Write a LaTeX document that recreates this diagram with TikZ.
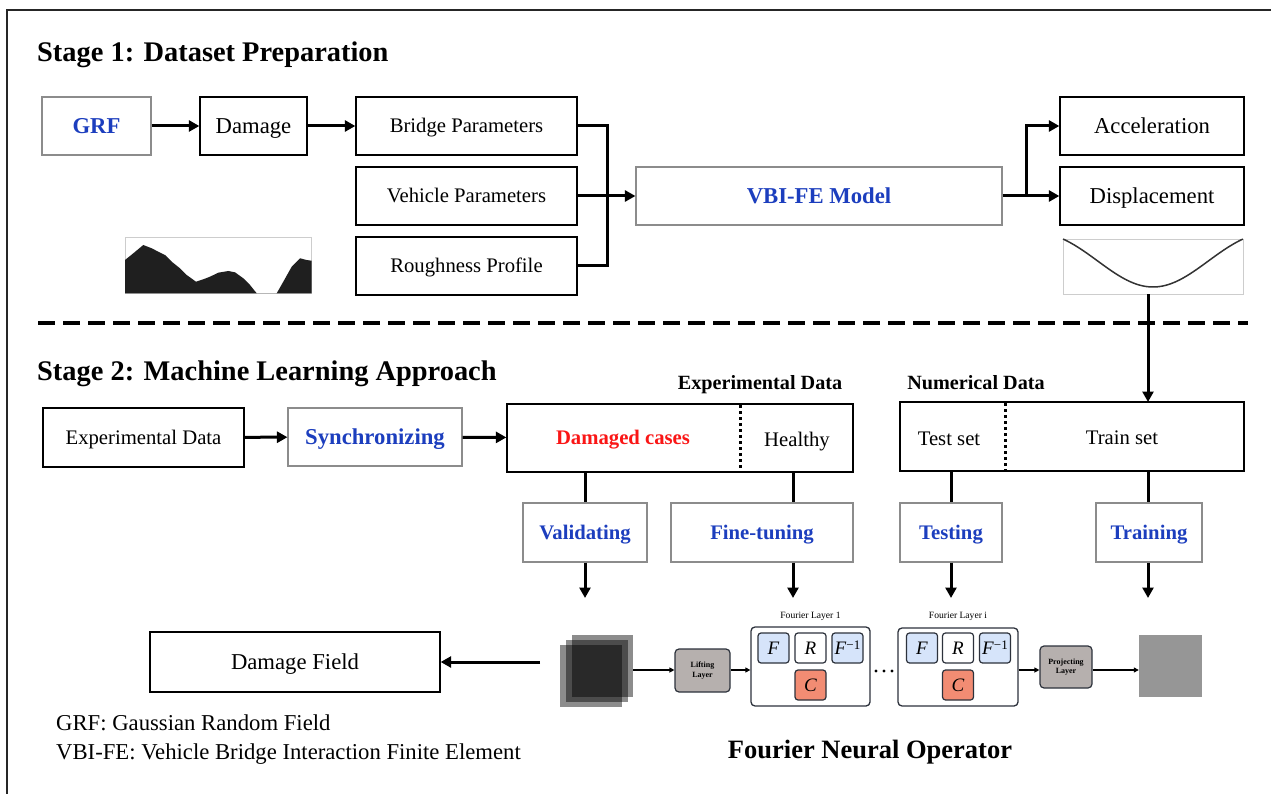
\documentclass[tikz,border=0pt]{standalone}
\usepackage{fontspec}
\setmainfont{Liberation Serif}
\usetikzlibrary{arrows.meta}

\definecolor{hblue}{RGB}{28,62,190}
\definecolor{hred}{RGB}{250,22,22}
\definecolor{lgray}{RGB}{140,140,140}
\definecolor{pgray}{RGB}{205,205,205}
\definecolor{fblue}{RGB}{214,228,250}
\definecolor{csalmon}{RGB}{242,140,115}
\definecolor{edgeslate}{RGB}{45,50,60}
\definecolor{layergray}{RGB}{182,176,174}
\definecolor{outgray}{RGB}{150,150,150}

% text boxes are sized to the capital height so that a node's centre is the middle of its capitals
\tikzset{
  box/.style={draw=black, line width=1.3pt, fill=white, inner sep=0pt},
  gbox/.style={draw=lgray, line width=1.1pt, fill=white, inner sep=0pt},
  plotframe/.style={draw=pgray, line width=0.8pt, inner sep=0pt},
  txt/.style={text height=13.7pt, text depth=0pt, font=\fontsize{20.7}{24}\selectfont},
  bigtxt/.style={text height=15pt, text depth=0pt, font=\fontsize{22.7}{26}\selectfont},
  btxt/.style={text height=13.7pt, text depth=0pt, font=\bfseries\fontsize{20.7}{24}\selectfont, text=hblue},
  bbigtxt/.style={text height=15pt, text depth=0pt, font=\bfseries\fontsize{22.7}{26}\selectfont, text=hblue},
  heading/.style={text height=18.8pt, text depth=0pt, anchor=west, inner sep=0pt, font=\bfseries\fontsize{28.4}{32}\selectfont},
  subhead/.style={text height=13.4pt, text depth=0pt, inner sep=0pt, font=\bfseries\fontsize{20.2}{22}\selectfont},
  ln/.style={line width=3pt},
  arr/.style={line width=3pt, -{Triangle[length=10.5pt,width=11pt]}},
  farr/.style={line width=1.2pt, -{Triangle[length=5pt,width=5pt]}},
  divider/.style={line width=3pt, dash pattern=on 3pt off 3pt},
  cell/.style={draw=edgeslate, line width=1.2pt, rounded corners=3pt,
    minimum width=31pt, minimum height=30pt, inner sep=0pt,
    text height=12.6pt, text depth=0pt, font=\fontsize{19}{19}\selectfont},
  layerbox/.style={draw=edgeslate, line width=1.3pt, rounded corners=4pt, fill=white, inner sep=0pt},
  projbox/.style={draw=edgeslate, line width=1.2pt, rounded corners=4pt, fill=layergray,
    inner sep=0pt, align=center, font=\bfseries\fontsize{8}{9.5}\selectfont},
  layertitle/.style={text height=6.4pt, text depth=0pt, inner sep=0pt, font=\fontsize{9.6}{11}\selectfont}
}

\begin{document}
\begin{tikzpicture}[x=1pt,y=-1pt]
\useasboundingbox (0,0) rectangle (1271,794);
\fill[white] (0,0) rectangle (1271,794);
% frame
\draw[line width=2.5pt, black!85] (1275,10) -- (7,10) -- (7,798);

% ---------------- Stage 1 ----------------
\node[heading] (s1) at (37,52) {Stage 1: Dataset Preparation};

\node[gbox, minimum width=109pt, minimum height=58pt, bbigtxt] (grf) at (96.5,126) {GRF};
\node[box, minimum width=107pt, minimum height=58pt, bigtxt] (dmg) at (253.5,126) {Damage};
\node[box, minimum width=221pt, minimum height=58pt, txt] (bridge) at (466.5,126) {Bridge Parameters};
\node[box, minimum width=221pt, minimum height=58pt, txt] (veh) at (466.5,196) {Vehicle Parameters};
\node[box, minimum width=221pt, minimum height=58pt, txt] (rough) at (466.5,266) {Roughness Profile};
\node[gbox, minimum width=366pt, minimum height=58pt, bbigtxt] (vbi) at (819,196) {VBI-FE Model};
\node[box, minimum width=184pt, minimum height=58pt, bigtxt] (acc) at (1152,126) {Acceleration};
\node[box, minimum width=184pt, minimum height=58pt, bigtxt] (disp) at (1152,196) {Displacement};

\draw[arr] (grf) -- (dmg);
\draw[arr] (dmg) -- (bridge);
\coordinate (merge) at (607,196);
\draw[ln] (bridge.east) -| (merge);
\draw[ln] (rough.east) -| (merge);
\draw[arr] (veh.east) -- (vbi.west);
\coordinate (split) at (1026,196);
\draw[arr] (vbi.east) -- (disp.west);
\draw[arr] (split) |- (acc.west);

% roughness sample
\node[plotframe, minimum width=186pt, minimum height=56pt] (gplot) at (218.5,265.5) {};
\fill[black!88] (125,260) -- (133.3,253.3) -- (143.3,245) -- (151.7,248.3) -- (158.3,251.7)
  -- (165,255) -- (171.7,261.7) -- (180,268.3) -- (186.7,275) -- (196,281.7) -- (203.3,279.3)
  -- (210,276.7) -- (218.3,272.7) -- (228.3,271) -- (235,272.3) -- (243.3,278.3) -- (250,285)
  -- (256.7,293.3) -- (276.7,293.3) -- (283.3,281.7) -- (291.7,266.7) -- (300,258.3)
  -- (306.7,260) -- (311.5,260.7) -- (311.5,293.3) -- (125,293.3) -- cycle;

% displacement sample
\node[plotframe, minimum width=180pt, minimum height=55pt] (dplot) at (1153,266.5) {};
\draw[line width=1.5pt, black!80, domain=0:1, samples=80, smooth]
  plot ({1063+180*\x}, {239 + 48*(0.55*sin(180*\x) + 0.45*(1-cos(360*\x))/2)});

% stage separator
\draw[line width=4pt, dash pattern=on 17pt off 8pt] (38,323) -- (1248,323);

% ---------------- Stage 2 ----------------
\node[heading] (s2) at (37,371) {Stage 2: Machine Learning Approach};

\node[subhead] (exphead) at (760,383) {Experimental Data};
\node[subhead] (numhead) at (976,383) {Numerical Data};

\node[box, minimum width=201pt, minimum height=59pt, txt] (expd) at (143.5,437.5) {Experimental Data};
\node[gbox, minimum width=174pt, minimum height=58pt, bbigtxt] (sync) at (375,437) {Synchronizing};
\node[box, minimum width=346pt, minimum height=68pt] (expbox) at (680,438) {};
\node[inner sep=0pt, text height=13.7pt, text depth=0pt, font=\bfseries\fontsize{20.7}{24}\selectfont, text=hred] (damaged) at (623,437.5) {Damaged cases};
\node[inner sep=0pt, txt] (healthy) at (797,440) {Healthy};
\draw[divider] (740,405) -- (740,471);

\node[box, minimum width=344pt, minimum height=69pt] (numbox) at (1072,436.5) {};
\node[inner sep=0pt, txt] (testset) at (949,439) {Test set};
\node[inner sep=0pt, txt] (trainset) at (1122,438) {Train set};
\draw[divider] (1005,403) -- (1005,470);

\draw[arr] (expd) -- (sync);
\draw[arr] (sync) -- (expbox);

\coordinate (trainin) at (1148,402);
\draw[arr] (dplot.south -| trainin) -- (trainin);

\node[gbox, minimum width=124pt, minimum height=59pt, btxt] (valid) at (585,532.5) {Validating};
\node[gbox, minimum width=182pt, minimum height=59pt, btxt] (fine) at (762,532.5) {Fine-tuning};
\node[gbox, minimum width=102pt, minimum height=59pt, btxt] (testing) at (951,532.5) {Testing};
\node[gbox, minimum width=106pt, minimum height=59pt, btxt] (training) at (1149,532.5) {Training};

\coordinate (vx) at (585,0);
\coordinate (fx) at (793,0);
\coordinate (tx) at (951,0);
\coordinate (rx) at (1148,0);
\draw[ln] (expbox.south -| vx) -- (valid.north -| vx);
\draw[ln] (expbox.south -| fx) -- (fine.north -| fx);
\draw[ln] (numbox.south -| tx) -- (testing.north -| tx);
\draw[ln] (numbox.south -| rx) -- (training.north -| rx);

\coordinate (vend) at (585,598);
\coordinate (fend) at (793,598);
\coordinate (tend) at (951,598);
\coordinate (rend) at (1148,598);
\draw[arr] (valid.south -| vend) -- (vend);
\draw[arr] (fine.south -| fend) -- (fend);
\draw[arr] (testing.south -| tend) -- (tend);
\draw[arr] (training.south -| rend) -- (rend);

% ---------------- Fourier Neural Operator ----------------
\node[box, minimum width=290pt, minimum height=60pt, bigtxt] (field) at (295,662) {Damage Field};
\coordinate (stackout) at (540,662);
\draw[arr] (stackout) -- (field.east);

% stacked output fields
\fill[black, opacity=0.45] (560,645) rectangle (622,707);
\fill[black, opacity=0.45] (566,640) rectangle (628,702);
\fill[black, opacity=0.45] (572,635) rectangle (633,697);
\node[inner sep=0pt, minimum width=73pt, minimum height=72pt] (stack) at (596.5,671) {};

\node[projbox, minimum width=55pt, minimum height=43pt] (lift) at (702.5,670.5) {Lifting\\Layer};

\node[layerbox, minimum width=119pt, minimum height=79pt] (fl1) at (810.5,666.5) {};
\node[layertitle] (fl1t) at (810.5,615) {Fourier Layer 1};
\node[cell, fill=fblue] (f1) at (773.5,648) {\textit{F}};
\node[cell, fill=white] (r1) at (810.5,648) {\textit{R}};
\node[cell, fill=fblue] (g1) at (847.5,648) {\textit{F}\raisebox{0.6ex}{\fontsize{13}{13}\selectfont −1}};
\node[cell, fill=csalmon] (c1) at (810.5,685) {\textit{C}};

\fill (876,671) circle (1.6pt) (884,671) circle (1.6pt) (892,671) circle (1.6pt);

\node[layerbox, minimum width=120pt, minimum height=78pt] (fli) at (958,667) {};
\node[layertitle] (flit) at (958,615) {Fourier Layer i};
\node[cell, fill=fblue] (fi) at (922,648) {\textit{F}};
\node[cell, fill=white] (ri) at (958,648) {\textit{R}};
\node[cell, fill=fblue] (gi) at (995,648) {\textit{F}\raisebox{0.6ex}{\fontsize{13}{13}\selectfont −1}};
\node[cell, fill=csalmon] (ci) at (958,685) {\textit{C}};

\node[projbox, minimum width=52pt, minimum height=42pt] (proj) at (1066,667) {Projecting\\Layer};
\node[inner sep=0pt, fill=outgray, minimum width=63pt, minimum height=62pt] (outf) at (1170.5,666) {};

\coordinate (y670) at (0,670);
\draw[farr] (stack.east |- y670) -- (lift.west |- y670);
\draw[farr] (lift.east |- y670) -- (fl1.west |- y670);
\draw[farr] (fli.east |- y670) -- (proj.west |- y670);
\draw[farr] (proj.east |- y670) -- (outf.west |- y670);

% legend and caption
\node[anchor=west, inner sep=0pt, bigtxt] (leg1) at (56,723) {GRF: Gaussian Random Field};
\node[anchor=west, inner sep=0pt, bigtxt] (leg2) at (56,752) {VBI-FE: Vehicle Bridge Interaction Finite Element};
\node[inner sep=0pt, text height=17.5pt, text depth=0pt, font=\bfseries\fontsize{26.5}{30}\selectfont] (fno) at (870,750) {Fourier Neural Operator};
\end{tikzpicture}
\end{document}
